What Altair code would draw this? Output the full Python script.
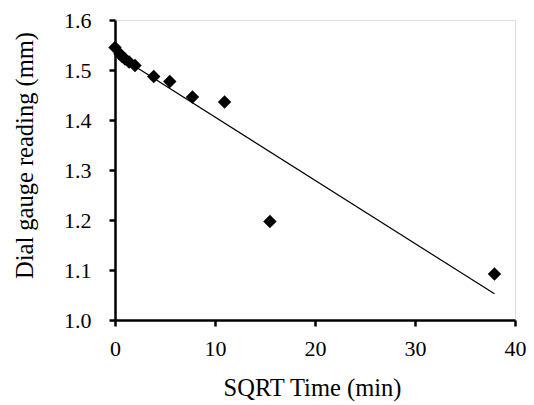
import altair as alt
import pandas as pd

sqrt_time = [0.0, 0.5, 0.707, 1.0, 1.414, 2.0, 3.873, 5.477, 7.746, 10.954, 15.492, 37.947]
reading = [1.545, 1.532, 1.527, 1.522, 1.516, 1.509, 1.487, 1.477, 1.446, 1.436, 1.197, 1.092]
x_ticks = [0, 10, 20, 30, 40]
y_ticks = [1.0, 1.1, 1.2, 1.3, 1.4, 1.5, 1.6]

df = pd.DataFrame({"t": sqrt_time, "r": reading})

FONT = "Liberation Serif, Times New Roman, serif"

x_enc = alt.X(
    "t:Q",
    scale=alt.Scale(domain=[0, 40], nice=False, zero=False),
    axis=alt.Axis(
        values=x_ticks, title="SQRT Time (min)", grid=False, labelFlush=False,
        domainColor="black", domainWidth=2.5, tickColor="black", tickWidth=2.5, tickSize=6,
        labelFont=FONT, labelFontSize=22, labelColor="black", labelPadding=12,
        titleFont=FONT, titleFontSize=24.5, titleFontWeight="normal", titleColor="black",
        titleBaseline="alphabetic", titleY=75, titleX=197, titleAlign="center",
    ),
)
y_enc = alt.Y(
    "r:Q",
    scale=alt.Scale(domain=[1.0, 1.6], nice=False, zero=False),
    axis=alt.Axis(
        values=y_ticks, format=".1f", title="Dial gauge reading (mm)", grid=False, labelFlush=False,
        domainColor="black", domainWidth=2.5, tickColor="black", tickWidth=2.5, tickSize=6,
        labelFont=FONT, labelFontSize=22, labelColor="black", labelPadding=18,
        titleFont=FONT, titleFontSize=24.5, titleFontWeight="normal", titleColor="black",
        titleX=-90, titleY=135, titleBaseline="middle",
    ),
)

points = alt.Chart(df).mark_point(
    shape="diamond", filled=True, color="black", size=180, opacity=1
).encode(x=x_enc, y=y_enc)

line = alt.Chart(df).transform_regression("t", "r").mark_line(
    color="black", strokeWidth=1.2
).encode(x="t:Q", y="r:Q")

chart = alt.layer(line, points).properties(
    width=400,
    height=300,
    autosize=alt.AutoSizeParams(type="none"),
    padding={"left": 107, "top": 12, "right": 11, "bottom": 90},
).configure_view(stroke="black", strokeWidth=1.5).configure(background="white")

chart.save("out.html", embed_options={"renderer": "svg", "actions": False})
